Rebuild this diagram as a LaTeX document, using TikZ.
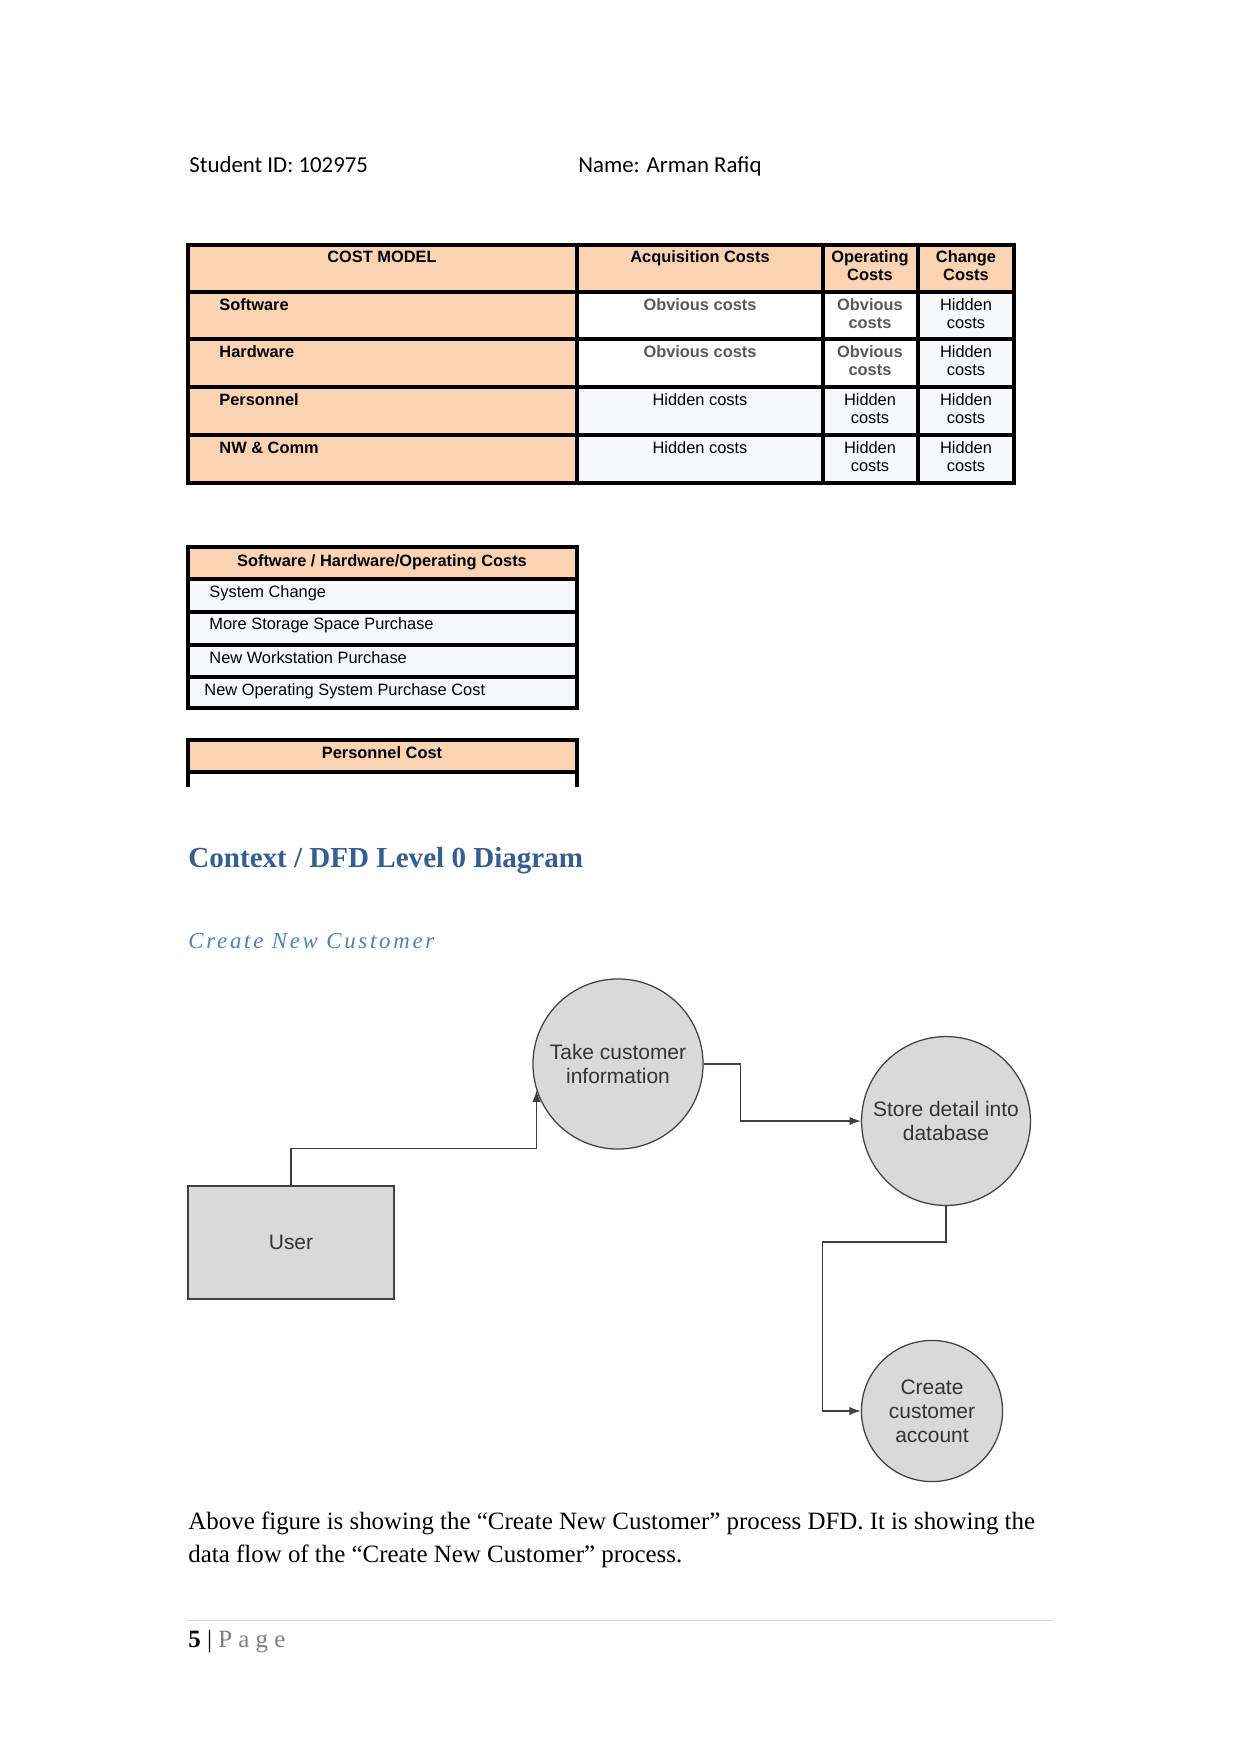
\documentclass[tikz,border=0pt]{standalone}
\usepackage{fontspec}
\setmainfont{Liberation Serif}
\setsansfont{Liberation Sans}
\newfontfamily\calibri{Carlito}
\newfontfamily\subtitlefont[LetterSpace=12]{Liberation Serif}
\newfontfamily\pagefont[LetterSpace=25]{Liberation Serif}
\usetikzlibrary{positioning, calc, arrows.meta}

\definecolor{peach}{HTML}{FAD4B2}
\definecolor{paleblue}{HTML}{F6F8FC}
\definecolor{headblue}{HTML}{365F91}
\definecolor{subblue}{HTML}{4F81BD}
\definecolor{obvgray}{HTML}{595959}
\definecolor{dfdfill}{HTML}{D9D9D9}
\definecolor{dfdline}{HTML}{404040}
\definecolor{dfdtext}{HTML}{333333}
\definecolor{rulegray}{HTML}{D9D9D9}
\definecolor{pagegray}{HTML}{7F7F7F}

\begin{document}
\begin{tikzpicture}[
    x=0.16933mm, y=-0.16933mm, % one unit = one pixel of the page
    >={Latex[length=5.5pt,width=4pt]}, % small filled arrow heads
    tblline/.style={line width=1.6pt, black},
    headcell/.style={font=\sffamily\bfseries\fontsize{7.9}{8.64}\selectfont, inner sep=0pt, anchor=base, align=center},
    cell/.style={font=\sffamily\fontsize{7.9}{8.64}\selectfont, inner sep=0pt, anchor=base, align=center},
    obvcell/.style={headcell, text=obvgray},
    rowlabel/.style={headcell, anchor=base west, align=left},
    item/.style={cell, anchor=base west, align=left},
    process/.style={circle, draw=dfdline, line width=0.6pt, fill=dfdfill, text=dfdtext, font=\sffamily\fontsize{10.1}{11.6}\selectfont, align=center, minimum size=#1, inner sep=0pt},
    entity/.style={rectangle, draw=dfdline, line width=0.7pt, fill=dfdfill, text=dfdtext, font=\sffamily\fontsize{10.1}{11.6}\selectfont, minimum width=34.9mm, minimum height=19.1mm},
    flow/.style={->, draw=dfdline, line width=0.6pt}
]
\useasboundingbox (0,0) rectangle (1241,1754);
\fill[white] (0,0) rectangle (1241,1754);

% Page header
\node[anchor=base west, inner sep=0pt, font=\calibri\fontsize{11}{13}\selectfont] (studentid) at (189,172) {Student ID: 102975};
\node[anchor=base west, inner sep=0pt, font=\calibri\fontsize{11}{13}\selectfont] (studentname) at (578,172) {Name: Arman Rafiq};

% Cost model table
\fill[peach] (188,245) rectangle (1014,292);
\fill[peach] (188,292) rectangle (577,483);
\fill[paleblue] (577,387) rectangle (1014,483);
\fill[paleblue] (918,292) rectangle (1014,387);
\draw[tblline] (188,245) rectangle (1014,483);
\draw[tblline] (188,292) -- (1014,292);
\draw[tblline] (188,339) -- (1014,339);
\draw[tblline] (188,387) -- (1014,387);
\draw[tblline] (188,435) -- (1014,435);
\draw[tblline] (577,245) -- (577,483);
\draw[tblline] (823,245) -- (823,483);
\draw[tblline] (918,245) -- (918,483);

% two-line cells sit on the baseline of their last line
\node[headcell] (costmodel) at (382,262) {COST MODEL};
\node[headcell] (acqhead) at (700,262) {Acquisition Costs};
\node[headcell] (ophead) at (870,280) {Operating\\Costs};
\node[headcell] (chhead) at (966,280) {Change\\Costs};

\node[rowlabel] (software) at (219,310) {Software};
\node[obvcell] (swacq) at (700,310) {Obvious costs};
\node[obvcell] (swop) at (870,328) {Obvious\\costs};
\node[cell] (swch) at (966,328) {Hidden\\costs};

\node[rowlabel] (hardware) at (219,357) {Hardware};
\node[obvcell] (hwacq) at (700,357) {Obvious costs};
\node[obvcell] (hwop) at (870,375) {Obvious\\costs};
\node[cell] (hwch) at (966,375) {Hidden\\costs};

\node[rowlabel] (personnel) at (219,405) {Personnel};
\node[cell] (peacq) at (700,405) {Hidden costs};
\node[cell] (peop) at (870,423) {Hidden\\costs};
\node[cell] (pech) at (966,423) {Hidden\\costs};

\node[rowlabel] (nwcomm) at (219,453) {NW \& Comm};
\node[cell] (nwacq) at (700,453) {Hidden costs};
\node[cell] (nwop) at (870,471) {Hidden\\costs};
\node[cell] (nwch) at (966,471) {Hidden\\costs};

% Software / hardware table
\fill[peach] (188,547) rectangle (577,579);
\fill[paleblue] (188,579) rectangle (577,708);
\draw[tblline] (188,547) rectangle (577,708);
\draw[tblline] (188,579) -- (577,579);
\draw[tblline] (188,612) -- (577,612);
\draw[tblline] (188,645) -- (577,645);
\draw[tblline] (188,677) -- (577,677);

\node[headcell] (swhwhead) at (382,566) {Software / Hardware/Operating Costs};
\node[item] (syschange) at (209,597) {System Change};
\node[item] (storage) at (209,629) {More Storage Space Purchase};
\node[item] (workstation) at (209,663) {New Workstation Purchase};
\node[item] (opsystem) at (204,695) {New Operating System Purchase Cost};

% Personnel table
\fill[peach] (188,740) rectangle (577,772);
\draw[tblline] (188,787) -- (188,740) -- (577,740) -- (577,787);
\draw[tblline] (188,772) -- (577,772);
\node[headcell] (perscost) at (382,758) {Personnel Cost};

% Headings
\node[anchor=base west, inner sep=0pt, text=headblue, font=\bfseries\fontsize{14}{16}\selectfont] (ctxhead) at (188,867) {Context / DFD Level 0 Diagram};
\node[anchor=base west, inner sep=0pt, text=subblue, font=\subtitlefont\itshape\fontsize{11}{13}\selectfont] (subhead) at (188,948) {Create New Customer};

% DFD nodes
\node[process=28.8mm] (take) at (618,1064) {Take customer\\information};
\node[process=28.6mm] (store) at (946,1121) {Store detail into\\database};
\node[process=23.9mm] (create) at (932,1411) {Create\\customer\\account};
\node[entity] (user) at (291,1242.5) {User};

% DFD flows
\draw[flow] (user.north) -- ++(0,-37) -| (take.198);
\draw[flow] (take.east) -- ++(37,0) |- (store.west);
\draw[flow] (store.south) -- ++(0,36) -| ($(create.west)+(-38,0)$) -- (create.west);

% Caption text
\node[anchor=base west, inner sep=0pt, align=left, font=\fontsize{12}{15.8}\selectfont] (caption) at (188,1562) {Above figure is showing the “Create New Customer” process DFD. It is showing the\\data flow of the “Create New Customer” process.};

% Footer
\draw[rulegray, line width=0.17mm] (188,1620) -- (1052,1620);
\node[anchor=base west, inner sep=0pt, font=\fontsize{12}{14}\selectfont] (pagenum) at (188,1647) {\textbf{5} | {\pagefont\color{pagegray}Page}};
\end{tikzpicture}
\end{document}
